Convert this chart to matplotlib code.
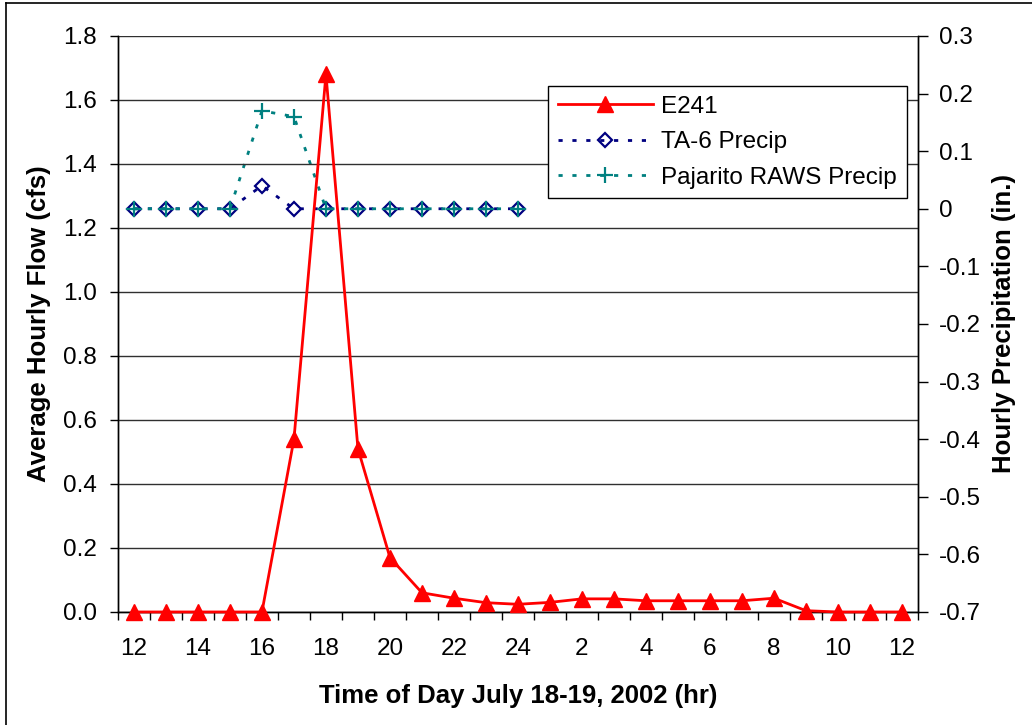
import numpy as np
import matplotlib.pyplot as plt
from matplotlib.lines import Line2D

plt.rcParams['font.family'] = ['Liberation Sans', 'DejaVu Sans']

# hour of day, July 18 12:00 through July 19 12:00
hours = [12, 13, 14, 15, 16, 17, 18, 19, 20, 21, 22, 23, 24,
         1, 2, 3, 4, 5, 6, 7, 8, 9, 10, 11, 12]

# average hourly flow at gage E241 (cfs)
e241 = [0, 0, 0, 0, 0, 0.54, 1.68, 0.51, 0.17, 0.06, 0.043, 0.029, 0.024,
        0.030, 0.041, 0.041, 0.035, 0.035, 0.035, 0.035, 0.043, 0.004, 0, 0, 0]

# hourly precipitation (in.), reported for 12 through 24 only
ta6_precip = [0, 0, 0, 0, 0.04, 0, 0, 0, 0, 0, 0, 0, 0]
pajarito_precip = [0, 0, 0, 0, 0.17, 0.16, 0, 0, 0, 0, 0, 0, 0]

x = np.arange(len(hours))
x_precip = np.arange(len(ta6_precip))

fig = plt.figure(figsize=(10.32, 7.25), dpi=100)
ax = fig.add_axes([0.1143, 0.1559, 0.7752, 0.7945])
ax2 = ax.twinx()

fs = 17.5

# precipitation on the right axis
l2, = ax2.plot(x_precip, ta6_precip, color='#000080', lw=2, linestyle=(0, (1.5, 3.5)),
               marker='D', markersize=7.5, markerfacecolor='none',
               markeredgecolor='#000080', markeredgewidth=1.6,
               label='TA-6 Precip')
l3, = ax2.plot(x_precip, pajarito_precip, color='#008080', lw=2, linestyle=(0, (1.5, 3.5)),
               marker='+', markersize=12, markeredgewidth=1.6,
               label='Pajarito RAWS Precip')

# flow on the left axis
l1, = ax.plot(x, e241, color='#ff0000', lw=2, marker='^', markersize=12,
              markeredgecolor='#ff0000', label='E241', clip_on=False, zorder=5)

# keep flow on top of the precip lines
ax.set_zorder(ax2.get_zorder() + 1)
ax.patch.set_visible(False)

ax.set_xlim(-0.5, len(hours) - 0.5)
ax.set_ylim(0, 1.8)
ax.set_yticks(np.arange(0, 1.81, 0.2))
ax.set_yticklabels([f'{v:.1f}' for v in np.arange(0, 1.81, 0.2)])
ax2.set_ylim(-0.7, 0.3)
ax2.set_yticks(np.arange(-0.7, 0.31, 0.1))
ax2.set_yticklabels([f'{v:.1f}' if abs(v) > 1e-9 else '0'
                     for v in np.arange(-0.7, 0.31, 0.1)])

# category axis: tick marks between categories, labels every other hour
ax.set_xticks(np.arange(-0.5, len(hours), 1.0))
ax.set_xticklabels([])
ax.set_xticks(x[::2], minor=True)
ax.set_xticklabels([str(h) for h in hours[::2]], minor=True)
ax.tick_params(axis='x', which='major', direction='out', length=6, width=1)
ax.tick_params(axis='x', which='minor', length=0, pad=19, labelsize=fs)
ax.tick_params(axis='y', direction='out', length=6, width=1, pad=9, labelsize=fs)
ax2.tick_params(axis='y', direction='out', length=7, width=1, pad=8, labelsize=fs)

ax.grid(axis='y', color='#303030', lw=1)
for a in (ax, ax2):
    a.spines['top'].set_visible(False)
    for s in ('left', 'right', 'bottom'):
        a.spines[s].set_color('black')
        a.spines[s].set_linewidth(1)

ax.set_xlabel('Time of Day July 18-19, 2002 (hr)', fontsize=18.5, fontweight='bold', labelpad=17)
ax.set_ylabel('Average Hourly Flow (cfs)', fontsize=18.5, fontweight='bold', labelpad=9)
ax2.set_ylabel('Hourly Precipitation (in.)', fontsize=18.5, fontweight='bold', labelpad=8)

leg = ax.legend(handles=[l1, l2, l3], loc='upper right', bbox_to_anchor=(0.986, 0.913),
                fontsize=fs, frameon=True, fancybox=False, framealpha=1,
                edgecolor='black', handlelength=3.9, handletextpad=0.35,
                labelspacing=0.55, borderpad=0.4, borderaxespad=0)
leg.get_frame().set_linewidth(1)

# outer chart border (top and left edges visible)
fig.add_artist(Line2D([6 / 1032, 1], [1 - 3 / 725, 1 - 3 / 725], color='black', lw=1.2))
fig.add_artist(Line2D([6 / 1032, 6 / 1032], [0, 1 - 3 / 725], color='black', lw=1.2))

fig.savefig('out.png', dpi=100)
